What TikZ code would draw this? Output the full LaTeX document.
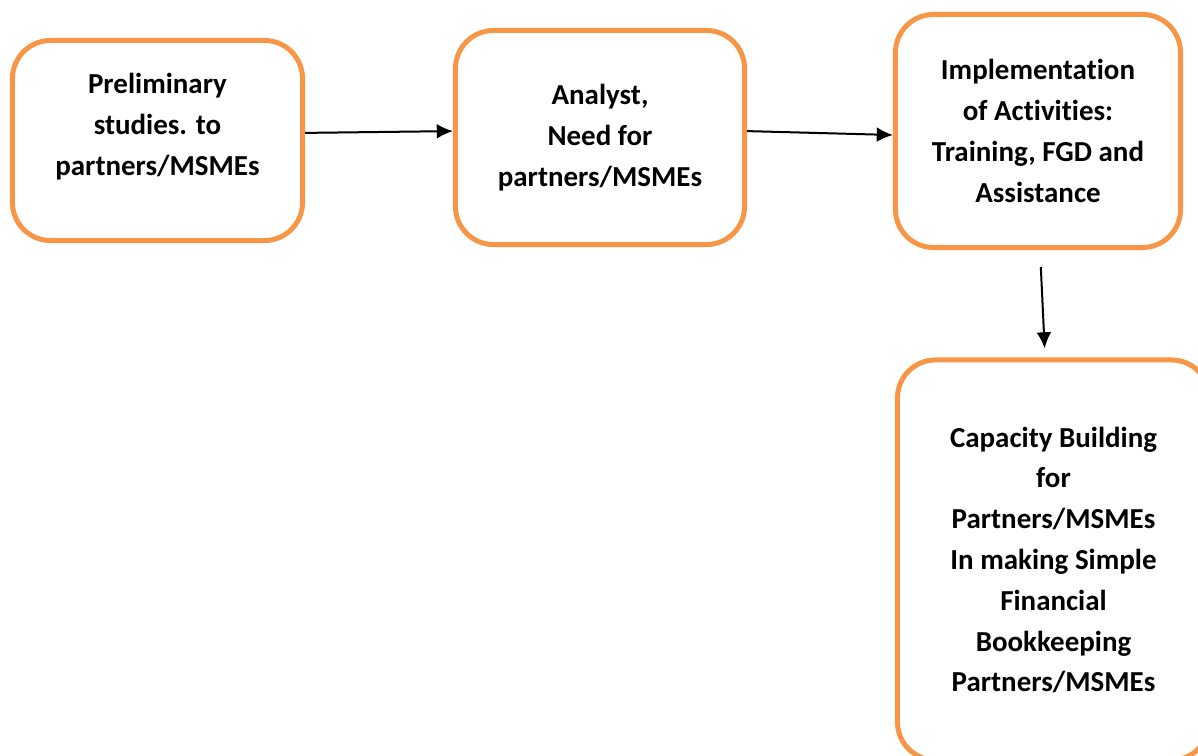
\documentclass[tikz,border=0pt]{standalone}
\usepackage{fontspec}
\setmainfont{Carlito}[Ligatures=NoCommon]
\usetikzlibrary{positioning,arrows.meta}
\definecolor{boxorange}{HTML}{F79646}

\begin{document}
\begin{tikzpicture}[
     x=0.025cm, y=-0.025cm,
     % define styles
     block/.style={
         draw=boxorange,
         line width=0.125cm,
         rounded corners=0.95cm,
         fill=white,
         align=center,
         font=\fontsize{20.6}{29}\selectfont\bfseries
     },
     link/.style={
         ->,
         line width=0.05cm
     },
     >={Latex[length=11.5pt,width=10.5pt]}
]
\useasboundingbox (0,0) rectangle (1198,756);
\clip (0,0) rectangle (1198,756);

% the four steps
\node[block, minimum width=7.25cm, minimum height=5cm, text depth=0.8cm]
     (prelim) at (157.5,140.5) {Preliminary\\studies. to\\partners/MSMEs};
\node[block, minimum width=7.225cm, minimum height=5.35cm]
     (analyst) at (600,137.5) {Analyst,\\Need for\\partners/MSMEs};
\node[block, minimum width=7.125cm, minimum height=5.825cm]
     (implement) at (1038,131) {Implementation\\of Activities:\\Training, FGD and\\Assistance};
\node[block, minimum width=7.8cm, minimum height=10cm]
     (capacity) at (1053.5,560) {Capacity Building\\for\\Partners/MSMEs\\In making Simple\\Financial\\Bookkeeping\\Partners/MSMEs};

% connectors
\draw[link] ([yshift=0.19cm]prelim.east) -- ([yshift=0.16cm]analyst.west);
\draw[link] ([yshift=0.16cm]analyst.east) -- ([yshift=-0.1cm]implement.west);
\draw[link, shorten <=0.425cm, shorten >=0.225cm]
     ([xshift=0.05cm]implement.south) -- ([xshift=-0.21cm]capacity.north);
\end{tikzpicture}
\end{document}
